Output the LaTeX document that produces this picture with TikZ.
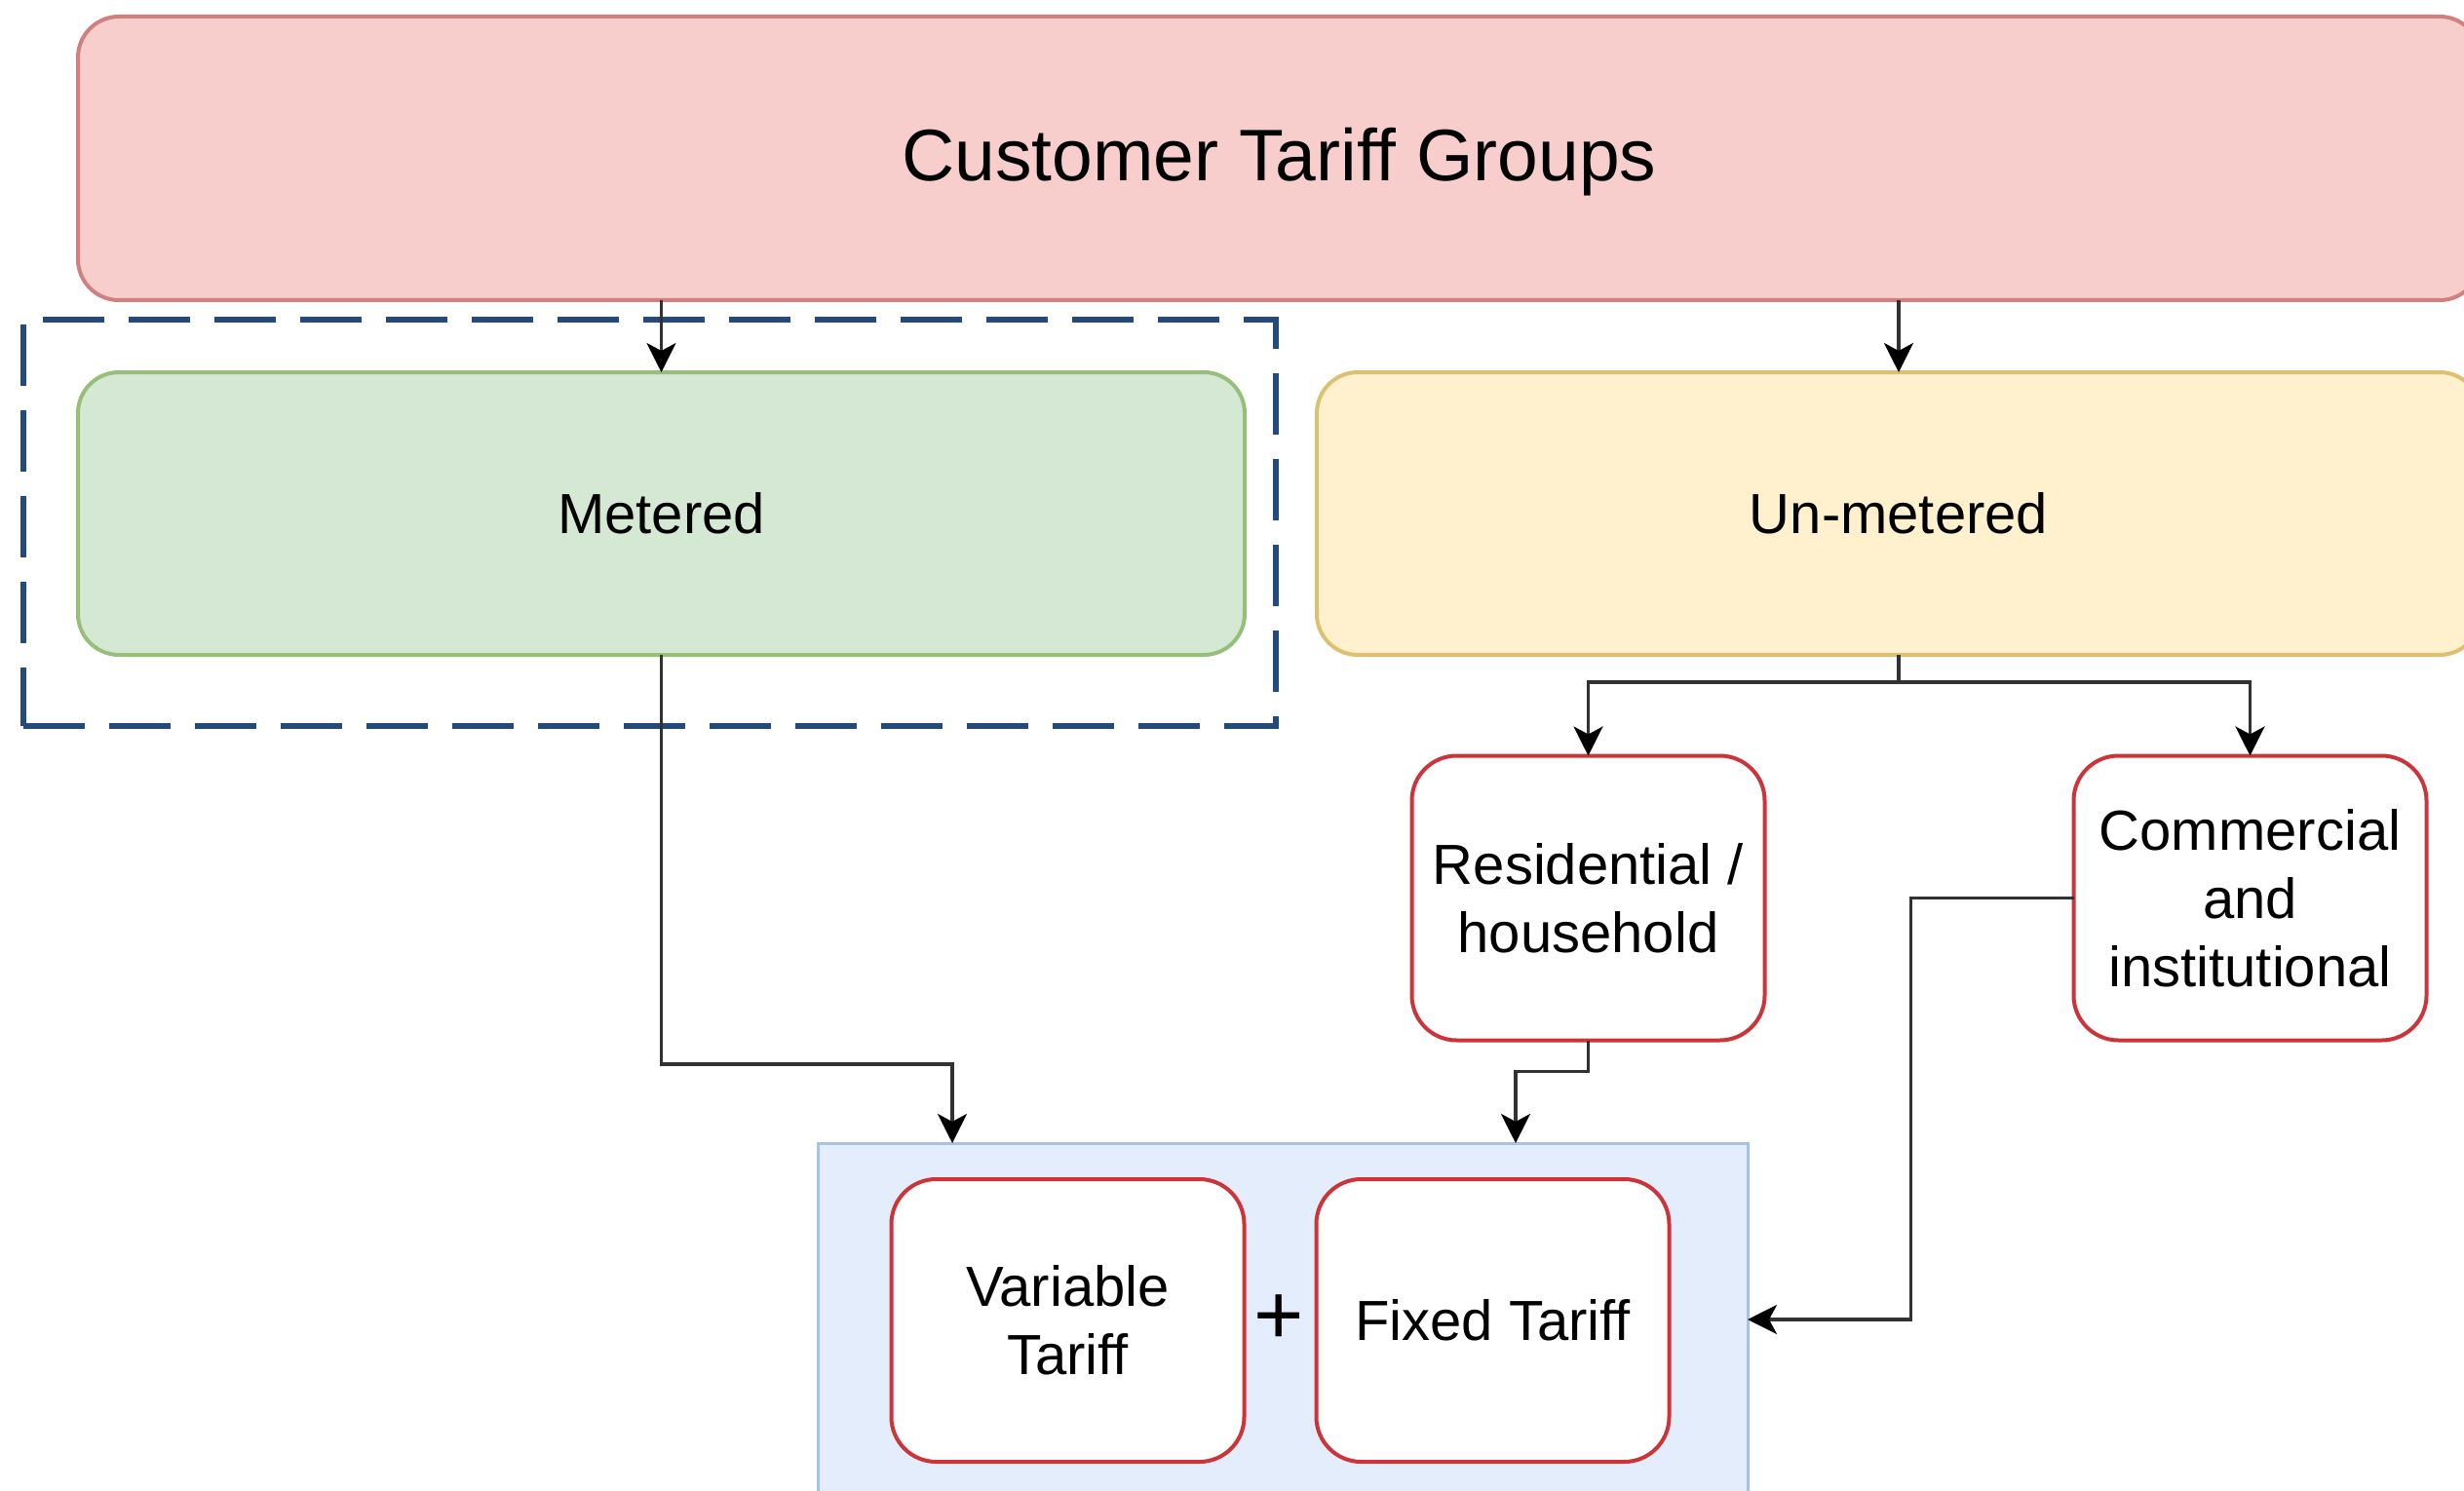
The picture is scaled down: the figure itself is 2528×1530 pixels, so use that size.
\documentclass[tikz,border=0pt]{standalone}
\usepackage{fontspec}
\setmainfont{Liberation Sans}
\usetikzlibrary{arrows.meta,calc}

\definecolor{topfill}{RGB}{247,206,204}
\definecolor{topline}{RGB}{208,128,126}
\definecolor{metfill}{RGB}{213,232,212}
\definecolor{metline}{RGB}{150,192,122}
\definecolor{unfill}{RGB}{255,241,206}
\definecolor{unline}{RGB}{222,192,112}
\definecolor{grpfill}{RGB}{227,237,252}
\definecolor{grpline}{RGB}{168,194,228}
\definecolor{leafline}{RGB}{204,52,58}
\definecolor{selline}{RGB}{35,73,125}
\definecolor{connline}{RGB}{50,50,50}

\begin{document}
\begin{tikzpicture}[x=0.5pt,y=-0.5pt,
  every node/.style={inner sep=0pt, outer sep=0pt},
  lbl/.style={font=\fontsize{29}{35}\selectfont, text=black},
  panel/.style={draw, line width=2pt, rounded corners=21pt, lbl},
  leaf/.style={panel, draw=leafline, fill=white, rounded corners=23pt,
    minimum width=181pt, minimum height=146pt, align=center},
  conn/.style={draw=connline, line width=1.7pt,
    -{Stealth[length=15pt,width=15pt,inset=4pt,color=black]}}
]
\clip (0,0) rectangle (2528,1530);
\fill[white] (0,0) rectangle (2528,1530);

% top level
\node[panel, draw=topline, fill=topfill, minimum width=1232.5pt, minimum height=145.5pt] (top) at (1312.5,162.5) {};
\node[font=\fontsize{37.5}{45}\selectfont] (title) at ($(top.center)+(0,4)$) {Customer Tariff Groups};

% selection frame around the metered branch
\node[draw=selline, line width=3pt, dash pattern=on 31.5pt off 12.5pt,
  minimum width=642.5pt, minimum height=208.5pt] (sel) at (666.5,536.5) {};

% second level
\node[panel, draw=metline, fill=metfill, minimum width=598.5pt, minimum height=145pt] (met) at (678.5,527) {Metered};
\node[panel, draw=unline, fill=unfill, minimum width=597pt, minimum height=145pt] (un) at (1948,527) {Un-metered};

% un-metered customer classes
\node[leaf] (res) at (1629.5,921.5) {Residential /\\household};
\node[leaf] (com) at (2308.5,921.5) {Commercial\\and\\institutional};

% tariff composition
\node[draw=grpline, fill=grpfill, line width=1.5pt, minimum width=477pt, minimum height=181pt] (grp) at (1316,1354) {};
\node[leaf, minimum height=145pt] (var) at (1095.5,1355) {Variable\\Tariff};
\node[leaf, minimum height=145pt] (fix) at (1531.5,1355) {Fixed Tariff};
\node[font=\fontsize{44}{50}\selectfont] (plus) at (1312,1354) {+};

% connectors
\draw[conn] (top.south -| met.north) -- (met.north);
\draw[conn] (top.south -| un.north) -- (un.north);
\draw[conn] (un.south) -- ++(0,28) -| (res.north);
\draw[conn] (un.south) -- ++(0,28) -| (com.north);
\draw[conn] (met.south) -- ++(0,420) -| ($(grp.north west)+(138,0)$);
\draw[conn] (res.south) -- ++(0,32) -| ($(grp.north west)+(716,0)$);
\draw[conn] (com.west) -- ++(-167,0) |- (grp.east);
\end{tikzpicture}
\end{document}
